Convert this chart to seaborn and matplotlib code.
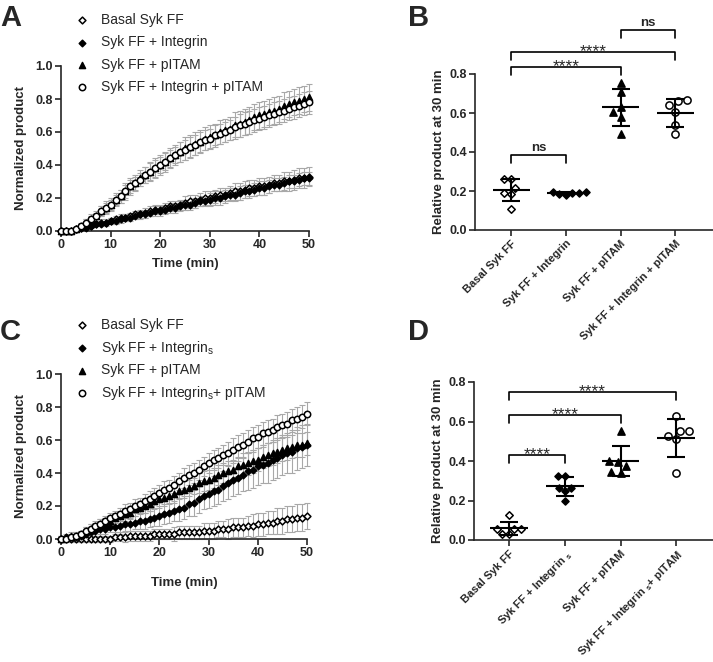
import numpy as np
import seaborn as sns
import matplotlib.pyplot as plt

sns.set_style("ticks")
plt.rcParams["font.family"] = ["Liberation Sans", "DejaVu Sans"]
plt.rcParams["axes.linewidth"] = 1.2

# ── Data ──────────────────────────────────────────────────────────────────────
time_min = np.arange(0, 51)

# Panel A (mean and SD per minute)
A_basal = [0.00, 0.00, 0.00, 0.01, 0.02, 0.03, 0.03, 0.04, 0.05, 0.05,
           0.06, 0.07, 0.08, 0.08, 0.09, 0.10, 0.10, 0.11, 0.12, 0.13,
           0.13, 0.14, 0.15, 0.15, 0.16, 0.17, 0.18, 0.18, 0.19, 0.20,
           0.20, 0.21, 0.22, 0.22, 0.23, 0.24, 0.24, 0.25, 0.26, 0.26,
           0.27, 0.27, 0.28, 0.29, 0.29, 0.30, 0.30, 0.31, 0.32, 0.32,
           0.33]
A_integrin = [0.00, 0.00, 0.00, 0.01, 0.02, 0.02, 0.03, 0.04, 0.04, 0.05,
              0.06, 0.06, 0.07, 0.08, 0.08, 0.09, 0.10, 0.10, 0.11, 0.12,
              0.12, 0.13, 0.14, 0.14, 0.15, 0.16, 0.16, 0.17, 0.18, 0.18,
              0.19, 0.20, 0.20, 0.21, 0.22, 0.22, 0.23, 0.24, 0.24, 0.25,
              0.26, 0.26, 0.27, 0.28, 0.28, 0.29, 0.30, 0.30, 0.31, 0.32,
              0.32]
A_pitam = [0.00, 0.00, 0.00, 0.01, 0.03, 0.05, 0.07, 0.09, 0.12, 0.14,
           0.16, 0.19, 0.21, 0.24, 0.27, 0.29, 0.32, 0.34, 0.36, 0.38,
           0.40, 0.42, 0.44, 0.46, 0.48, 0.50, 0.51, 0.53, 0.54, 0.56,
           0.57, 0.58, 0.60, 0.61, 0.62, 0.64, 0.65, 0.66, 0.67, 0.69,
           0.70, 0.71, 0.72, 0.73, 0.74, 0.76, 0.77, 0.78, 0.79, 0.80,
           0.81]
A_int_pitam = [0.00, 0.00, 0.00, 0.01, 0.03, 0.05, 0.07, 0.09, 0.12, 0.14,
               0.16, 0.19, 0.21, 0.24, 0.27, 0.29, 0.31, 0.34, 0.36, 0.38,
               0.40, 0.42, 0.44, 0.46, 0.48, 0.49, 0.51, 0.52, 0.54, 0.55,
               0.56, 0.58, 0.59, 0.60, 0.61, 0.63, 0.64, 0.65, 0.66, 0.67,
               0.68, 0.69, 0.70, 0.71, 0.72, 0.73, 0.74, 0.75, 0.76, 0.77,
               0.78]
A_basal_sd = [0.00, 0.00, 0.01, 0.01, 0.01, 0.01, 0.01, 0.01, 0.02, 0.02,
              0.02, 0.02, 0.02, 0.02, 0.02, 0.02, 0.03, 0.03, 0.03, 0.03,
              0.03, 0.03, 0.03, 0.03, 0.03, 0.04, 0.04, 0.04, 0.04, 0.04,
              0.04, 0.04, 0.04, 0.04, 0.04, 0.05, 0.05, 0.05, 0.05, 0.05,
              0.05, 0.05, 0.05, 0.05, 0.05, 0.06, 0.06, 0.06, 0.06, 0.06,
              0.06]
A_integrin_sd = [0.00, 0.00, 0.00, 0.01, 0.01, 0.01, 0.01, 0.01, 0.01, 0.01,
                 0.02, 0.02, 0.02, 0.02, 0.02, 0.02, 0.02, 0.02, 0.02, 0.03,
                 0.03, 0.03, 0.03, 0.03, 0.03, 0.03, 0.03, 0.03, 0.03, 0.03,
                 0.04, 0.04, 0.04, 0.04, 0.04, 0.04, 0.04, 0.04, 0.04, 0.04,
                 0.04, 0.04, 0.04, 0.04, 0.04, 0.04, 0.04, 0.04, 0.04, 0.04,
                 0.04]
A_pitam_sd = [0.00, 0.00, 0.01, 0.01, 0.02, 0.02, 0.03, 0.03, 0.03, 0.04,
              0.04, 0.04, 0.04, 0.05, 0.05, 0.05, 0.05, 0.05, 0.06, 0.06,
              0.06, 0.06, 0.06, 0.06, 0.06, 0.07, 0.07, 0.07, 0.07, 0.07,
              0.07, 0.07, 0.07, 0.07, 0.07, 0.08, 0.08, 0.08, 0.08, 0.08,
              0.08, 0.08, 0.08, 0.08, 0.08, 0.08, 0.08, 0.08, 0.08, 0.08,
              0.08]
A_int_pitam_sd = [0.00, 0.00, 0.01, 0.01, 0.01, 0.02, 0.02, 0.02, 0.03, 0.03,
                  0.03, 0.03, 0.04, 0.04, 0.04, 0.04, 0.04, 0.05, 0.05, 0.05,
                  0.05, 0.05, 0.05, 0.05, 0.06, 0.06, 0.06, 0.06, 0.06, 0.06,
                  0.06, 0.06, 0.06, 0.06, 0.06, 0.06, 0.07, 0.07, 0.07, 0.07,
                  0.07, 0.07, 0.07, 0.07, 0.07, 0.07, 0.07, 0.07, 0.07, 0.07,
                  0.07]

# Panel C (mean and SD per minute)
C_basal = [0.00, 0.00, 0.00, 0.00, 0.00, 0.00, 0.00, 0.00, 0.00, 0.00,
           0.00, 0.01, 0.01, 0.01, 0.02, 0.02, 0.02, 0.02, 0.02, 0.03,
           0.03, 0.03, 0.03, 0.03, 0.04, 0.04, 0.04, 0.04, 0.04, 0.05,
           0.05, 0.05, 0.06, 0.06, 0.06, 0.07, 0.07, 0.07, 0.08, 0.08,
           0.09, 0.09, 0.10, 0.10, 0.11, 0.11, 0.12, 0.12, 0.13, 0.13,
           0.14]
C_integrin = [0.00, 0.01, 0.01, 0.01, 0.02, 0.03, 0.04, 0.05, 0.06, 0.06,
              0.07, 0.07, 0.08, 0.09, 0.09, 0.10, 0.11, 0.11, 0.12, 0.13,
              0.14, 0.15, 0.16, 0.17, 0.18, 0.19, 0.21, 0.22, 0.24, 0.26,
              0.27, 0.29, 0.30, 0.32, 0.34, 0.36, 0.37, 0.39, 0.41, 0.42,
              0.44, 0.45, 0.46, 0.48, 0.49, 0.51, 0.52, 0.53, 0.55, 0.56,
              0.57]
C_pitam = [0.00, 0.01, 0.02, 0.02, 0.03, 0.05, 0.06, 0.07, 0.09, 0.10,
           0.11, 0.13, 0.14, 0.15, 0.16, 0.18, 0.19, 0.20, 0.21, 0.23,
           0.24, 0.25, 0.26, 0.27, 0.29, 0.30, 0.31, 0.32, 0.34, 0.35,
           0.36, 0.37, 0.39, 0.40, 0.41, 0.42, 0.44, 0.45, 0.46, 0.47,
           0.48, 0.50, 0.51, 0.52, 0.53, 0.54, 0.55, 0.56, 0.57, 0.57,
           0.58]
C_int_pitam = [0.00, 0.00, 0.01, 0.02, 0.03, 0.05, 0.06, 0.08, 0.09, 0.11,
               0.13, 0.14, 0.15, 0.17, 0.18, 0.20, 0.21, 0.23, 0.24, 0.26,
               0.28, 0.30, 0.31, 0.33, 0.35, 0.37, 0.39, 0.40, 0.42, 0.44,
               0.46, 0.48, 0.49, 0.51, 0.52, 0.54, 0.56, 0.57, 0.59, 0.61,
               0.62, 0.64, 0.65, 0.66, 0.68, 0.69, 0.70, 0.72, 0.73, 0.74,
               0.76]
C_basal_sd = [0.02, 0.02, 0.02, 0.02, 0.02, 0.02, 0.02, 0.02, 0.02, 0.02,
              0.02, 0.02, 0.02, 0.03, 0.03, 0.03, 0.03, 0.03, 0.03, 0.03,
              0.03, 0.03, 0.03, 0.04, 0.04, 0.04, 0.04, 0.04, 0.04, 0.05,
              0.05, 0.05, 0.05, 0.05, 0.06, 0.06, 0.06, 0.06, 0.06, 0.07,
              0.07, 0.07, 0.07, 0.07, 0.08, 0.08, 0.08, 0.08, 0.08, 0.08,
              0.08]
C_integrin_sd = [0.01, 0.01, 0.01, 0.02, 0.02, 0.02, 0.02, 0.03, 0.03, 0.03,
                 0.03, 0.03, 0.04, 0.04, 0.04, 0.04, 0.05, 0.05, 0.05, 0.05,
                 0.06, 0.06, 0.06, 0.06, 0.07, 0.07, 0.07, 0.08, 0.08, 0.08,
                 0.08, 0.09, 0.09, 0.09, 0.10, 0.10, 0.10, 0.10, 0.11, 0.11,
                 0.11, 0.11, 0.12, 0.12, 0.12, 0.12, 0.12, 0.13, 0.13, 0.13,
                 0.13]
C_pitam_sd = [0.02, 0.02, 0.02, 0.02, 0.02, 0.02, 0.03, 0.03, 0.03, 0.03,
              0.03, 0.03, 0.03, 0.04, 0.04, 0.04, 0.04, 0.04, 0.04, 0.04,
              0.05, 0.05, 0.05, 0.05, 0.05, 0.05, 0.05, 0.05, 0.06, 0.06,
              0.06, 0.06, 0.06, 0.06, 0.06, 0.06, 0.06, 0.07, 0.07, 0.07,
              0.07, 0.07, 0.07, 0.07, 0.07, 0.07, 0.07, 0.07, 0.07, 0.07,
              0.07]
C_int_pitam_sd = [0.02, 0.02, 0.02, 0.02, 0.02, 0.02, 0.03, 0.03, 0.03, 0.03,
                  0.03, 0.03, 0.04, 0.04, 0.04, 0.04, 0.04, 0.04, 0.05, 0.05,
                  0.05, 0.05, 0.05, 0.05, 0.05, 0.06, 0.06, 0.06, 0.06, 0.06,
                  0.06, 0.06, 0.06, 0.06, 0.07, 0.07, 0.07, 0.07, 0.07, 0.07,
                  0.07, 0.07, 0.07, 0.07, 0.07, 0.07, 0.07, 0.07, 0.07, 0.07,
                  0.07]

# Panel B / D replicate values (relative product at 30 min)
B_basal = [0.26, 0.26, 0.19, 0.185, 0.215, 0.11]
B_integrin = [0.19, 0.195, 0.185, 0.18, 0.19, 0.195]
B_pitam = [0.755, 0.71, 0.605, 0.63, 0.58, 0.49]
B_int_pitam = [0.66, 0.665, 0.64, 0.605, 0.54, 0.49]

D_basal = [0.125, 0.055, 0.055, 0.03, 0.03, 0.055]
D_integrin = [0.325, 0.325, 0.265, 0.25, 0.265, 0.20]
D_pitam = [0.55, 0.375, 0.395, 0.40, 0.34, 0.345]
D_int_pitam = [0.63, 0.55, 0.525, 0.51, 0.55, 0.34]

A_labels = ["Basal Syk FF", "Syk FF + Integrin", "Syk FF + pITAM",
            "Syk FF + Integrin + pITAM"]
C_labels = ["Basal Syk FF", r"Syk FF + Integrin$_\mathregular{s}$", "Syk FF + pITAM",
            r"Syk FF + Integrin$_\mathregular{s}$+ pITAM"]
B_ticklabels = A_labels
D_ticklabels = ["Basal Syk FF", r"Syk FF + Integrin $_\mathregular{s}$", "Syk FF + pITAM",
                r"Syk FF + Integrin $_\mathregular{s}$+ pITAM"]

B_sig = [(0, 1, 0.385, "ns"), (0, 2, 0.836, "****"), (0, 3, 0.913, "****"),
         (2, 3, 1.026, "ns")]
D_sig = [(0, 1, 0.43, "****"), (0, 2, 0.633, "****"), (0, 3, 0.75, "****")]

# marker style per condition: (marker, face, scatter s, swarm size)
styles = [("D", "white", 12, 3.8), ("D", "black", 11, 3.6),
          ("^", "black", 19, 5.2), ("o", "white", 21, 5.2)]

# ── Figure ───────────────────────────────────────────────────────────────────
W, H = 713, 662
fig = plt.figure(figsize=(W / 100, H / 100), dpi=100)


def px_axes(left, top, right, bottom):
    return fig.add_axes([left / W, 1 - bottom / H, (right - left) / W, (bottom - top) / H])


def style_axis(ax):
    sns.despine(ax=ax)
    ax.tick_params(direction="out", length=4.5, width=1.2, pad=1.5, labelsize=9)
    for lab in ax.get_xticklabels() + ax.get_yticklabels():
        lab.set_fontweight("bold")


def kinetics(ax, series, sds, labels, leg_top, leg_space, xlabelpad):
    for vals, sd, lab, (m, face, s, _) in zip(series, sds, labels, styles):
        ax.errorbar(time_min, vals, yerr=sd, fmt="none", ecolor="#a8a8a8",
                    elinewidth=0.8, capsize=2.5, capthick=0.8, zorder=1, clip_on=False)
        sns.scatterplot(x=time_min, y=vals, marker=m, color=face, edgecolor="black",
                        linewidth=1.1, s=s, label=lab, ax=ax, zorder=3, clip_on=False)
    ax.set_xlim(0, 50)
    ax.set_ylim(0, 1.0)
    ax.set_xticks([0, 10, 20, 30, 40, 50])
    ax.set_yticks([0.0, 0.2, 0.4, 0.6, 0.8, 1.0])
    ax.set_yticklabels(["0.0", "0.2", "0.4", "0.6", "0.8", "1.0"])
    ax.set_xlabel("Time (min)", fontsize=9.5, fontweight="bold", labelpad=xlabelpad)
    ax.set_ylabel("Normalized product", fontsize=9.5, fontweight="bold", labelpad=6)
    style_axis(ax)
    h, l = ax.get_legend_handles_labels()
    ax.legend(h, l, loc="upper left", bbox_to_anchor=(75 / W, 1 - leg_top / H),
              bbox_transform=fig.transFigure, frameon=False, fontsize=10,
              handlelength=1.0, handletextpad=0.85, labelspacing=leg_space,
              borderpad=0, borderaxespad=0)


def scatter_panel(ax, groups, ticklabels, sig, xlim, scale):
    for i, (vals, (m, face, _, size)) in enumerate(zip(groups, styles)):
        sns.swarmplot(x=[ticklabels[i]] * len(vals), y=vals, order=ticklabels,
                      marker=m, color=face, edgecolor="black", linewidth=1.1,
                      size=size, ax=ax, zorder=2, clip_on=False)
        mean = np.mean(vals)
        sd = np.std(vals, ddof=1)
        ax.hlines(mean, i - 0.34, i + 0.34, color="black", lw=1.5, zorder=4)
        ax.errorbar(i, mean, yerr=sd, fmt="none", ecolor="black", elinewidth=1.5,
                    capsize=6.5, capthick=1.5, zorder=4)
    ax.set_xlim(*xlim)
    ax.set_ylim(0, 0.8)
    ax.set_yticks([0.0, 0.2, 0.4, 0.6, 0.8])
    ax.set_yticklabels(["0.0", "0.2", "0.4", "0.6", "0.8"])
    ax.set_ylabel("Relative product at 30 min", fontsize=9.5, fontweight="bold", labelpad=3)
    ax.set_xlabel("")
    style_axis(ax)
    ax.set_xticks(range(4))
    ax.set_xticklabels(ticklabels, rotation=45, ha="right", va="top",
                       rotation_mode="anchor", fontsize=8.0, fontweight="bold")
    tip = 8 / scale
    for x1, x2, y, txt in sig:
        ax.plot([x1, x1, x2, x2], [y - tip, y, y, y - tip], color="black", lw=1.2,
                clip_on=False)
        if txt == "ns":
            ax.annotate(txt, xy=((x1 + x2) / 2, y), xytext=(0, 2.5), textcoords="offset points",
                        ha="center", va="baseline", fontsize=9.5, fontweight="bold",
                        annotation_clip=False)
        else:
            ax.annotate(txt, xy=((x1 + x2) / 2, y), xytext=(0, -3), textcoords="offset points",
                        ha="center", va="baseline", fontsize=12.5, annotation_clip=False)


axA = px_axes(61, 66, 309, 231)
kinetics(axA, [A_basal, A_integrin, A_pitam, A_int_pitam],
         [A_basal_sd, A_integrin_sd, A_pitam_sd, A_int_pitam_sd], A_labels, 13, 0.6, 5)

axC = px_axes(61, 374, 307, 539)
kinetics(axC, [C_basal, C_integrin, C_pitam, C_int_pitam],
         [C_basal_sd, C_integrin_sd, C_pitam_sd, C_int_pitam_sd], C_labels, 318, 0.48, 13)

axB = px_axes(475, 74, 713, 230)
scatter_panel(axB, [B_basal, B_integrin, B_pitam, B_int_pitam], B_ticklabels, B_sig,
              (-0.66, 3.69), 195)

axD = px_axes(474, 382, 713, 540)
scatter_panel(axD, [D_basal, D_integrin, D_pitam, D_int_pitam], D_ticklabels, D_sig,
              (-0.63, 3.66), 197.5)

for letter, x, y in [("A", 0, 4), ("B", 408, 4), ("C", 0, 318), ("D", 408, 318)]:
    fig.text(x / W, 1 - y / H, letter, fontsize=21, fontweight="bold", ha="left", va="top")

fig.savefig("out.png", dpi=100)
